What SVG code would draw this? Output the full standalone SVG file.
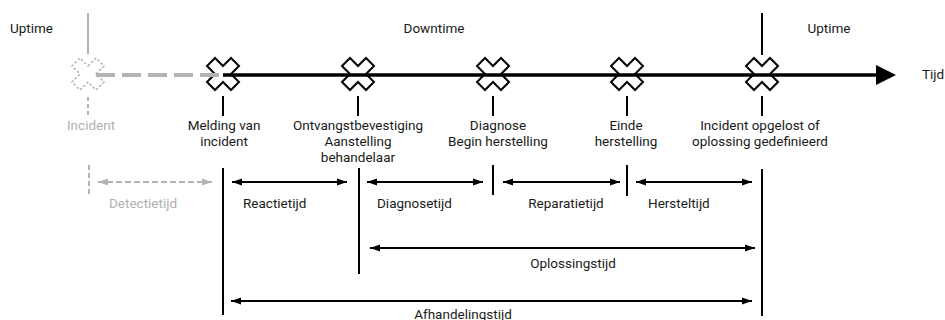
<svg xmlns="http://www.w3.org/2000/svg" width="945" height="320" viewBox="0 0 945 320">
<style>
text{font-family:Roboto,"Liberation Sans",sans-serif;font-size:13.5px;fill:#1a1a1a}
.c{text-anchor:middle}
.g{fill:#b0b0b0}
.blk{stroke:#000;stroke-width:2;fill:none}
.gry{stroke:#b3b3b3;stroke-width:2;fill:none}
.x{fill:#fff;stroke:#000;stroke-width:2;stroke-linejoin:miter}
.xg{fill:#fff;stroke:#b3b3b3;stroke-width:1.5;stroke-dasharray:2.5 2}
</style>
<defs>
<polygon id="xs" points="0,-8 8,-16 16,-8 8,0 16,8 8,16 0,8 -8,16 -16,8 -8,0 -16,-8 -8,-16"/>
<marker id="ah" viewBox="0 0 10 10" refX="10" refY="5" markerWidth="10" markerHeight="10" markerUnits="userSpaceOnUse" orient="auto-start-reverse"><path d="M0,1.5 L10,5 L0,8.5 Z" fill="#000"/></marker>
<marker id="ahg" viewBox="0 0 10 10" refX="10" refY="5" markerWidth="10" markerHeight="10" markerUnits="userSpaceOnUse" orient="auto-start-reverse"><path d="M0,1.5 L10,5 L0,8.5 Z" fill="#b3b3b3"/></marker>
</defs>

<g id="labels-top">
<text x="10" y="33">Uptime</text>
<text x="434" y="33" class="c">Downtime</text>
<text x="829" y="33" class="c">Uptime</text>
<text x="922" y="79">Tijd</text>
</g>

<g id="node-incident">
<line x1="88" y1="13" x2="88" y2="54" class="gry"/>
<use href="#xs" x="88" y="74" class="xg"/>
<line x1="88" y1="97" x2="88" y2="116" class="gry" stroke-dasharray="4 3"/>
<text x="91" y="130" class="c g">Incident</text>
</g>

<g id="node-melding">
<use href="#xs" x="223" y="74" class="x"/>
<line x1="223" y1="96" x2="223" y2="116" class="blk"/>
<text x="224" y="130" class="c">Melding van</text>
<text x="224" y="146" class="c">incident</text>
</g>

<g id="node-ontvangst">
<use href="#xs" x="358" y="74" class="x"/>
<line x1="358" y1="96" x2="358" y2="116" class="blk"/>
<text x="358" y="130" class="c">Ontvangstbevestiging</text>
<text x="358" y="146" class="c">Aanstelling</text>
<text x="358" y="162" class="c">behandelaar</text>
</g>

<g id="node-diagnose">
<use href="#xs" x="493" y="74" class="x"/>
<line x1="493" y1="96" x2="493" y2="116" class="blk"/>
<text x="498" y="130" class="c">Diagnose</text>
<text x="498" y="146" class="c">Begin herstelling</text>
</g>

<g id="node-einde">
<use href="#xs" x="627" y="74" class="x"/>
<line x1="627" y1="96" x2="627" y2="116" class="blk"/>
<text x="626" y="130" class="c">Einde</text>
<text x="626" y="146" class="c">herstelling</text>
</g>

<g id="node-opgelost">
<line x1="762" y1="13" x2="762" y2="55" class="blk"/>
<use href="#xs" x="762" y="74" class="x"/>
<line x1="762" y1="96" x2="762" y2="116" class="blk"/>
<text x="760" y="130" class="c">Incident opgelost of</text>
<text x="760" y="146" class="c">oplossing gedefinieerd</text>
</g>

<g id="connectors">
<line x1="96" y1="75" x2="223" y2="75" stroke="#b3b3b3" stroke-width="4" stroke-dasharray="19 7"/>
<line x1="223" y1="75" x2="878" y2="75" stroke="#000" stroke-width="3.5"/>
<polygon points="876,65 896,75 876,85" fill="#000"/>

<line x1="89" y1="165" x2="89" y2="196" class="gry" stroke-dasharray="5 3"/>
<line x1="223" y1="168" x2="223" y2="315" class="blk"/>
<line x1="359" y1="168" x2="359" y2="274" class="blk"/>
<line x1="493" y1="165" x2="493" y2="195" class="blk"/>
<line x1="627" y1="165" x2="627" y2="196" class="blk"/>
<line x1="762" y1="169" x2="762" y2="316" class="blk"/>

<line x1="98" y1="182" x2="212" y2="182" class="gry" stroke-dasharray="6 3" marker-start="url(#ahg)" marker-end="url(#ahg)"/>
<line x1="232" y1="182" x2="347" y2="182" class="blk" marker-start="url(#ah)" marker-end="url(#ah)"/>
<line x1="367" y1="182" x2="483" y2="182" class="blk" marker-start="url(#ah)" marker-end="url(#ah)"/>
<line x1="503" y1="182" x2="620" y2="182" class="blk" marker-start="url(#ah)" marker-end="url(#ah)"/>
<line x1="636" y1="182" x2="752" y2="182" class="blk" marker-start="url(#ah)" marker-end="url(#ah)"/>
<line x1="370" y1="248" x2="755" y2="248" class="blk" marker-start="url(#ah)" marker-end="url(#ah)"/>
<line x1="231" y1="301" x2="752" y2="301" class="blk" marker-start="url(#ah)" marker-end="url(#ah)"/>
</g>

<g id="labels-durations">
<text x="109" y="208" class="g">Detectietijd</text>
<text x="243" y="208">Reactietijd</text>
<text x="377" y="208">Diagnosetijd</text>
<text x="566" y="208" class="c">Reparatietijd</text>
<text x="648" y="208">Hersteltijd</text>
<text x="573" y="268" class="c">Oplossingstijd</text>
<text x="463" y="319" class="c">Afhandelingstijd</text>
</g>
</svg>
